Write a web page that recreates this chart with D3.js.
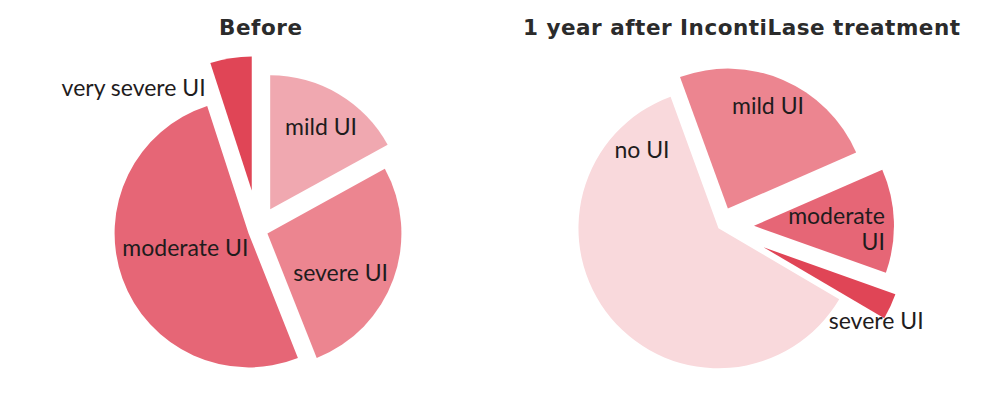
<!DOCTYPE html>
<html>
<head>
<meta charset="utf-8">
<script src="https://cdn.jsdelivr.net/npm/d3@7/dist/d3.min.js"></script>
<style>
  html, body { margin: 0; padding: 0; background: #ffffff; }
  svg { display: block; }
</style>
</head>
<body>
<svg id="chart" width="1000" height="400"></svg>
<script>
// ---- data ----
const titles = ["Before", "1 year after IncontiLase treatment"];

const beforeCategories = ["mild UI", "severe UI", "moderate UI", "very severe UI"];
const beforeValues     = [17, 27, 51, 5];

const afterCategories  = ["mild UI", "moderate UI", "severe UI", "no UI"];
const afterValues      = [24, 12, 3, 61];

// ---- styles / layout ----
const colorMap = {
  "no UI": "#f9d9dc",
  "mild UI": "#f0a8b0",
  "severe UI": "#ec8590",
  "moderate UI": "#e66676",
  "very severe UI": "#e04556"
};
const afterColorMap = {
  "no UI": "#f9d9dc",
  "mild UI": "#ec8590",
  "moderate UI": "#e66676",
  "severe UI": "#e04556"
};

const deg = Math.PI / 180;
const svg = d3.select("#chart");

const pies = [
  {
    title: titles[0], titleX: 260.5, titleLen: 83,
    cats: beforeCategories, vals: beforeValues, colors: colorMap,
    cx: 258, cy: 230, r: 134, start: 0,
    explode: { "mild UI": 24, "severe UI": 10, "moderate UI": 10, "very severe UI": 40 },
    // label placement: [angle from slice apex (deg), distance, anchor]
    labels: {
      "mild UI": [31.6, 97, "middle"],
      "severe UI": [118.1, 83, "middle"],
      "moderate UI": [256.7, 65, "middle"],
      "very severe UI": [335.7, 112, "end"]
    }
  },
  {
    title: titles[1], titleX: 741.5, titleLen: 437,
    cats: afterCategories, vals: afterValues, colors: afterColorMap,
    cx: 720, cy: 227, r: 140, start: -20,
    explode: { "mild UI": 20, "moderate UI": 34, "severe UI": 48, "no UI": 2 },
    labels: {
      "mild UI": [21.4, 110, "middle"],
      "no UI": [315.7, 109.5, "middle"],
      "moderate UI": [91.2, 131, "end", ["moderate", "UI"]],
      "severe UI": [123.1, 134.5, "middle"]
    }
  }
];

pies.forEach(p => {
  // title
  svg.append("text")
    .attr("x", p.titleX)
    .attr("y", 35)
    .attr("text-anchor", "middle")
    .attr("font-family", "'DejaVu Sans', Inter, sans-serif")
    .attr("font-weight", 700)
    .attr("font-size", 21.5)
    .attr("fill", "#2b2b2b")
    .attr("textLength", p.titleLen)
    .attr("lengthAdjust", "spacing")
    .text(p.title);

  const data = p.cats.map((c, i) => ({ cat: c, value: p.vals[i] }));
  const pie = d3.pie().sort(null).value(d => d.value)
    .startAngle(p.start * deg).endAngle(p.start * deg + 2 * Math.PI);
  const arcs = pie(data);
  const arc = d3.arc().innerRadius(0).outerRadius(p.r);

  const g = svg.append("g").attr("transform", `translate(${p.cx},${p.cy})`);

  const slice = g.selectAll("g.slice").data(arcs).join("g")
    .attr("class", "slice")
    .attr("transform", d => {
      const mid = (d.startAngle + d.endAngle) / 2;
      const e = p.explode[d.data.cat] || 0;
      return `translate(${e * Math.sin(mid)},${-e * Math.cos(mid)})`;
    });

  slice.append("path")
    .attr("d", arc)
    .attr("fill", d => p.colors[d.data.cat]);

  slice.each(function(d) {
    const L = p.labels[d.data.cat];
    const a = L[0] * deg, dist = L[1];
    const x = dist * Math.sin(a), y = -dist * Math.cos(a);
    const lines = L[3] || [d.data.cat];
    const lh = 26;
    const t = d3.select(this).append("text")
      .attr("text-anchor", L[2])
      .attr("font-family", "Lato, 'Open Sans', sans-serif")
      .attr("font-size", 23)
      .attr("fill", "#1f1c1d");
    lines.forEach((ln, i) => {
      t.append("tspan")
        .attr("x", x)
        .attr("y", y + (i - (lines.length - 1) / 2) * lh)
        .attr("dy", "0.35em")
        .text(ln);
    });
  });
});
</script>
</body>
</html>
